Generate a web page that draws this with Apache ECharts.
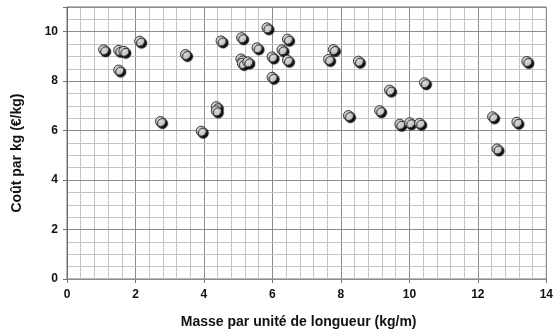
<!DOCTYPE html>
<html>
<head>
<meta charset="utf-8">
<script src="https://cdn.jsdelivr.net/npm/echarts@6/dist/echarts.min.js"></script>
<style>
  html, body { margin: 0; padding: 0; background: #fff; }
  #chart { width: 556px; height: 334px; }
</style>
</head>
<body>
<div id="chart"></div>
<script>
// Mass per unit length (kg/m) and cost per kg (€/kg) for each product
const massePerMetre = [
  1.07, 1.51, 1.66, 1.51, 2.12, 2.73, 3.46, 3.92, 4.36, 4.36,
  4.50, 5.10, 5.08, 5.12, 5.28, 5.55, 5.84, 5.99, 5.99, 6.28,
  6.44, 6.44, 7.64, 7.78, 8.22, 8.51, 9.13, 9.42, 9.72, 10.01,
  10.30, 10.44, 12.43, 12.56, 13.14, 13.43
];
const coutParKg = [
  9.27, 9.25, 9.21, 8.45, 9.62, 6.37, 9.08, 5.98, 6.97, 6.80,
  9.63, 9.76, 8.90, 8.72, 8.78, 9.35, 10.16, 8.98, 8.16, 9.27,
  9.70, 8.85, 8.88, 9.28, 6.61, 8.81, 6.81, 7.64, 6.26, 6.32,
  6.30, 7.94, 6.56, 5.26, 6.34, 8.80
];
const xTicks = [0, 2, 4, 6, 8, 10, 12, 14];
const yTicks = [0, 2, 4, 6, 8, 10];

const xTitle = 'Masse par unité de longueur (kg/m)';
const yTitle = 'Coût par kg (€/kg)';

const points = massePerMetre.map((m, i) => [m, coutParKg[i]]);

const font = 'Liberation Sans, Arial, sans-serif';
const majorGrid = '#8c8c8c';
const minorGrid = '#c4c4c4';
const frame = '#6e6e6e';

const chart = echarts.init(document.getElementById('chart'), null, { renderer: 'canvas' });
chart.setOption({
  animation: false,
  backgroundColor: '#ffffff',
  grid: {
    left: 67, right: 7, top: 7, bottom: 55,
    show: true, borderColor: frame, borderWidth: 1, backgroundColor: 'transparent'
  },
  xAxis: {
    type: 'value',
    min: xTicks[0],
    max: xTicks[xTicks.length - 1],
    interval: xTicks[1] - xTicks[0],
    name: xTitle,
    nameLocation: 'middle',
    nameGap: 36,
    nameTextStyle: { fontFamily: font, fontWeight: 'bold', fontSize: 14, color: '#111', padding: [0, 16, 0, 0] },
    axisLine: { show: true, onZero: false, lineStyle: { color: frame, width: 1 } },
    axisTick: { show: true, length: 4, lineStyle: { color: frame } },
    axisLabel: { fontFamily: font, fontWeight: 'bold', fontSize: 12, color: '#111', margin: 10 },
    splitLine: { show: true, lineStyle: { color: majorGrid, width: 1 } },
    minorTick: { show: false, splitNumber: 5 },
    minorSplitLine: { show: true, lineStyle: { color: minorGrid, width: 1 } }
  },
  yAxis: [
    {
      type: 'value',
      min: 0,
      max: 11,
      interval: yTicks[1] - yTicks[0],
      name: yTitle,
      nameLocation: 'middle',
      nameGap: 43,
      nameTextStyle: { fontFamily: font, fontWeight: 'bold', fontSize: 14, color: '#111', padding: [0, 20, 0, 0] },
      axisLine: { show: true, onZero: false, lineStyle: { color: frame, width: 1 } },
      axisTick: { show: true, length: 4, lineStyle: { color: frame } },
      axisLabel: {
        fontFamily: font, fontWeight: 'bold', fontSize: 12, color: '#111', margin: 9,
        formatter: v => (yTicks.indexOf(v) >= 0 ? String(v) : '')
      },
      splitLine: { show: true, lineStyle: { color: majorGrid, width: 1 } },
      z: 3
    },
    {
      // finer half-unit grid lines
      type: 'value',
      min: 0,
      max: 11,
      interval: 0.5,
      position: 'left',
      axisLine: { show: false },
      axisTick: { show: false },
      axisLabel: { show: false },
      splitLine: { show: true, lineStyle: { color: minorGrid, width: 1 } },
      z: 1
    }
  ],
  series: [{
    type: 'scatter',
    yAxisIndex: 0,
    data: points,
    symbol: 'circle',
    symbolSize: 10,
    itemStyle: {
      color: {
        type: 'radial', x: 0.4, y: 0.4, r: 0.6,
        colorStops: [
          { offset: 0, color: '#e4e4e4' },
          { offset: 1, color: '#b8b8b8' }
        ]
      },
      borderColor: '#3a3a3a',
      borderWidth: 1,
      shadowColor: 'rgba(0,0,0,0.95)',
      shadowBlur: 1,
      shadowOffsetX: 2,
      shadowOffsetY: 2,
      opacity: 1
    },
    z: 5
  }]
});
</script>
</body>
</html>
